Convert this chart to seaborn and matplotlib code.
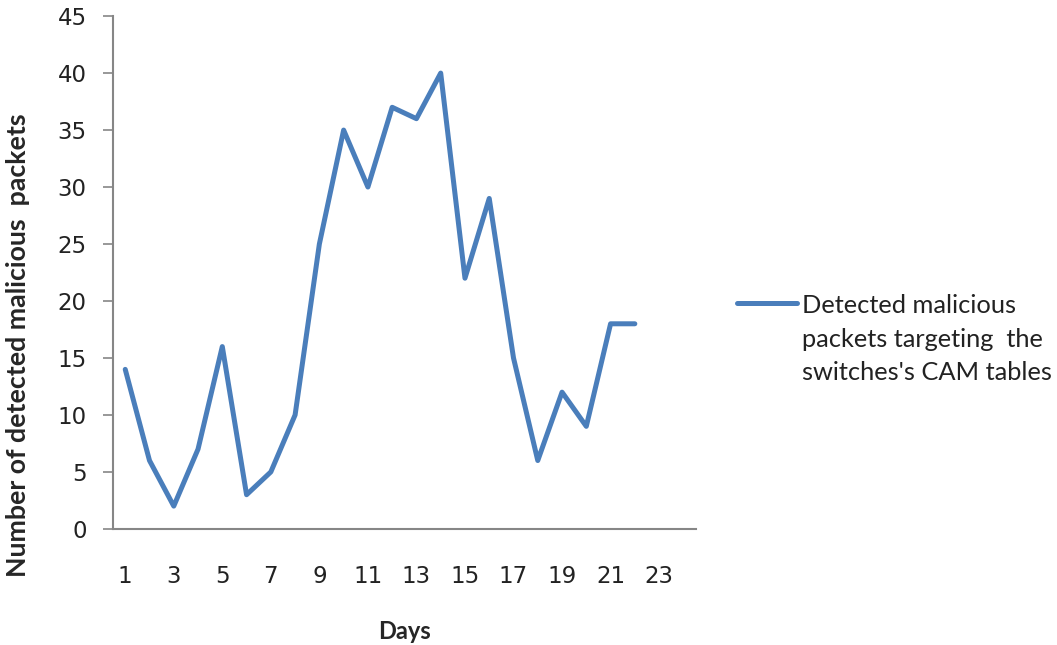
import pandas as pd
import matplotlib.pyplot as plt
import seaborn as sns

# ── data ────────────────────────────────────────────────
days = list(range(1, 23))
packets = [14, 6, 2, 7, 16, 3, 5, 10, 25, 35, 30, 37, 36, 40, 22, 29, 15, 6, 12, 9, 18, 18]
xtick_labels = [1, 3, 5, 7, 9, 11, 13, 15, 17, 19, 21, 23]
series_name = "Detected malicious\npackets targeting  the\nswitches's CAM tables"

df = pd.DataFrame({"day": days, "packets": packets})

# ── style ───────────────────────────────────────────────
sns.set_style("white")
plt.rcParams["font.family"] = ["Lato", "DejaVu Sans"]
axis_grey = "#868686"
line_blue = "#4A7EBB"
text_dark = "#222222"

fig = plt.figure(figsize=(10.57, 6.45), dpi=100)
ax = fig.add_axes([0.107, 0.180, 0.551, 0.795])

sns.lineplot(data=df, x="day", y="packets", ax=ax, color=line_blue,
             linewidth=3.6, label=series_name, legend=False)

ax.set_xlim(0.5, 24.5)
ax.set_ylim(0, 45)
ax.set_yticks(range(0, 46, 5))
ax.set_xticks(xtick_labels)
ax.tick_params(axis="y", length=7, width=1.2, color=axis_grey, direction="out",
               labelsize=16.5, pad=12, left=True, labelcolor=text_dark)
ax.tick_params(axis="x", length=0, labelsize=16.5, pad=26, labelcolor=text_dark)
for lbl in ax.get_xticklabels() + ax.get_yticklabels():
    lbl.set_family("DejaVu Sans")

for side in ["top", "right"]:
    ax.spines[side].set_visible(False)
for side in ["left", "bottom"]:
    ax.spines[side].set_color(axis_grey)
    ax.spines[side].set_linewidth(1.5)

ax.set_xlabel("Days", fontsize=17, fontweight="bold", labelpad=23)
ax.set_ylabel("Number of detected malicious  packets", fontsize=19.3,
              fontweight="bold")
ax.yaxis.set_label_coords(-0.143, 0.358)

# legend: handle sits level with the first line of the wrapped label
handles, labels = ax.get_legend_handles_labels()
leg = fig.legend(handles, labels, loc="upper left", bbox_to_anchor=(0.6975, 0.544),
                 frameon=False, fontsize=18.3, handlelength=2.35, handletextpad=0.2,
                 borderaxespad=0, borderpad=0)
for t in leg.get_texts():
    t.set_linespacing(1.55)
    t.set_color(text_dark)
for col in leg._legend_handle_box.get_children():
    for item in col.get_children():
        item.align = "top"

plt.savefig("out.png", dpi=100)
